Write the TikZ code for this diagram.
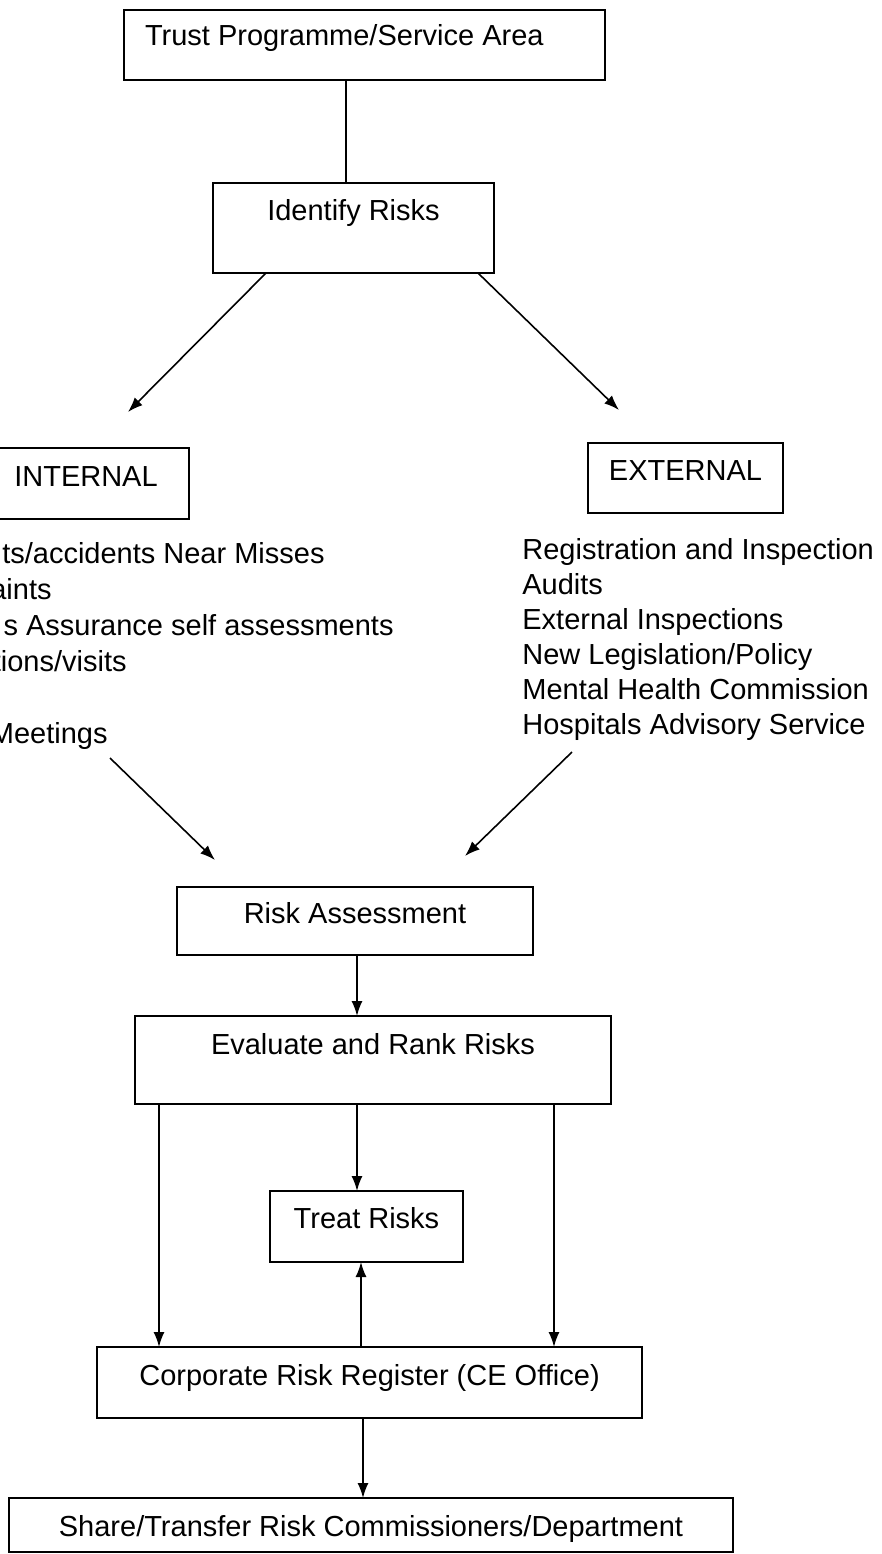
\documentclass[tikz,border=0pt]{standalone}
\usepackage{fontspec}
\setmainfont{Liberation Sans}
\usetikzlibrary{arrows.meta}
\newcommand\diagfont{\fontsize{14.5pt}{18pt}\selectfont}
\begin{document}
\begin{tikzpicture}[x=0.5pt,y=-0.5pt,
  box/.style={draw, line width=1pt, inner xsep=0pt, inner ysep=0pt, outer sep=0pt,
              anchor=north west, font=\diagfont},
  listline/.style={inner sep=0pt, font=\diagfont},
  flow/.style={line width=0.8pt, -{Latex[length=7.5pt,width=5.5pt]}},
  link/.style={line width=0.8pt}]
\useasboundingbox (0,0) rectangle (882,1554);
\clip (0,0) rectangle (882,1554);

% process boxes
\node[box, inner xsep=10.5pt, text height=17.5pt, text depth=17.5pt] (trust) at (124,10)
  {\makebox[219.5pt][l]{Trust Programme/Service Area}};
\node[box, minimum width=140.5pt, text height=18.5pt, text depth=26.5pt] (identify) at (213,183) {Identify Risks};
\node[box, minimum width=103pt, text height=19pt, text depth=16.5pt] (internal) at (-17,448) {INTERNAL};
\node[box, minimum width=97.5pt, text height=18.5pt, text depth=16.5pt] (external) at (588,443) {EXTERNAL};
\node[box, minimum width=178pt, text height=18pt, text depth=16pt] (risk) at (177,887) {Risk Assessment};
\node[box, minimum width=238pt, text height=19pt, text depth=25pt] (evaluate) at (135,1016) {Evaluate and Rank Risks};
\node[box, minimum width=96.5pt, text height=18.5pt, text depth=17pt] (treat) at (270,1191) {Treat Risks};
\node[box, minimum width=272.5pt, text height=19pt, text depth=16.5pt] (corporate) at (97,1347) {Corporate Risk Register (CE Office)};
\node[box, minimum width=362pt, text height=19pt, text depth=8pt] (share) at (9,1498) {Share/Transfer Risk Commissioners/Department};

% internal sources
\node[listline, anchor=base east] (int1) at (325,563) {ts/accidents Near Misses};
\node[listline, anchor=base east] (int2) at (52,599) {aints};
\node[listline, anchor=base east] (int3) at (394,635) {s Assurance self assessments};
\node[listline, anchor=base east] (int4) at (127,671) {tions/visits};
\node[listline, anchor=base east] (int5) at (108,743) {Meetings};

% external sources
\node[listline, anchor=base west] (ext1) at (522,559) {Registration and Inspection};
\node[listline, anchor=base west] (ext2) at (522,594) {Audits};
\node[listline, anchor=base west] (ext3) at (522,629) {External Inspections};
\node[listline, anchor=base west] (ext4) at (522,664) {New Legislation/Policy};
\node[listline, anchor=base west] (ext5) at (522,699) {Mental Health Commission};
\node[listline, anchor=base west] (ext6) at (522,734) {Hospitals Advisory Service};

% connector columns and free ends
\coordinate (colA) at (346,0);
\coordinate (colB) at (357,0);
\coordinate (colL) at (159,0);
\coordinate (colR) at (554,0);
\coordinate (colC) at (361,0);
\coordinate (colD) at (363,0);
\coordinate (tipInt) at (128,412);
\coordinate (tipExt) at (619,410);
\coordinate (intFrom) at (110,758);
\coordinate (intTo) at (215,860);
\coordinate (extFrom) at (572,752);
\coordinate (extTo) at (465,856);

% connectors
\draw[link] (trust.south -| colA) -- (identify.north -| colA);
\draw[flow] ([xshift=26.5pt]identify.south west) -- (tipInt);
\draw[flow] ([xshift=-8pt]identify.south east) -- (tipExt);
\draw[flow] (intFrom) -- (intTo);
\draw[flow] (extFrom) -- (extTo);
\draw[flow] (risk.south -| colB) -- (evaluate.north -| colB);
\draw[flow] (evaluate.south -| colB) -- (treat.north -| colB);
\draw[flow] (evaluate.south -| colL) -- (corporate.north -| colL);
\draw[flow] (evaluate.south -| colR) -- (corporate.north -| colR);
\draw[flow] (corporate.north -| colC) -- (treat.south -| colC);
\draw[flow] (corporate.south -| colD) -- (share.north -| colD);
\end{tikzpicture}
\end{document}
